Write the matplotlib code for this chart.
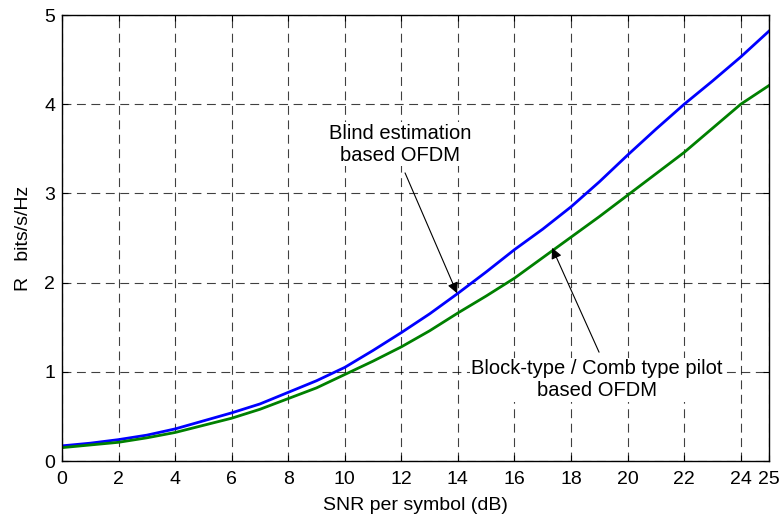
import numpy as np
import matplotlib.pyplot as plt

plt.rcParams['font.family'] = ['Liberation Sans', 'DejaVu Sans']

snr = list(range(0, 26))
blind = [0.17, 0.20, 0.24, 0.29, 0.36, 0.45, 0.54, 0.64, 0.77, 0.90, 1.05,
         1.24, 1.44, 1.65, 1.88, 2.12, 2.37, 2.60, 2.85, 3.13, 3.43, 3.72,
         4.00, 4.26, 4.53, 4.82]
pilot = [0.15, 0.18, 0.21, 0.26, 0.32, 0.40, 0.48, 0.58, 0.70, 0.82, 0.97,
         1.12, 1.28, 1.46, 1.66, 1.85, 2.05, 2.28, 2.51, 2.74, 2.98, 3.22,
         3.46, 3.73, 4.00, 4.21]
xticks = [0, 2, 4, 6, 8, 10, 12, 14, 16, 18, 20, 22, 24, 25]

fig = plt.figure(figsize=(7.82, 5.18), dpi=100)
ax = fig.add_axes([0.0793, 0.110, 0.9041, 0.861])

ax.plot(snr, blind, color='#0000ff', lw=2.0)
ax.plot(snr, pilot, color='#008000', lw=2.0)

ax.set_xlim(0, 25)
ax.set_ylim(0, 5)
ax.set_xticks(xticks)
ax.set_yticks([0, 1, 2, 3, 4, 5])
ax.tick_params(direction='in', top=True, right=True, labelsize=14, length=4)
ax.tick_params(axis='x', pad=7)
ax.tick_params(axis='y', pad=5)
ax.grid(True, color='black', linestyle=(0, (8, 5)), lw=0.8, alpha=0.75)
for s in ax.spines.values():
    s.set_linewidth(1.0)

ax.set_xlabel('SNR per symbol (dB)', fontsize=14, labelpad=7)
ax.set_ylabel('R   bits/s/Hz', fontsize=14, labelpad=9)

arrow = dict(arrowstyle='-|>', color='black', lw=0.8, mutation_scale=16,
             shrinkA=0, shrinkB=0)
box = dict(facecolor='white', edgecolor='none', pad=1)

ax.text(11.95, 3.55, 'Blind estimation\nbased OFDM', ha='center', va='center',
        fontsize=14.5, bbox=box)
ax.annotate('', xy=(13.97, 1.88), xytext=(12.13, 3.23), arrowprops=arrow)

ax.text(18.92, 0.91, 'Block-type / Comb type pilot\nbased OFDM', ha='center',
        va='center', fontsize=14.5, bbox=box)
ax.annotate('', xy=(17.33, 2.39), xytext=(18.99, 1.22), arrowprops=arrow)

fig.savefig('out.png', dpi=100)
